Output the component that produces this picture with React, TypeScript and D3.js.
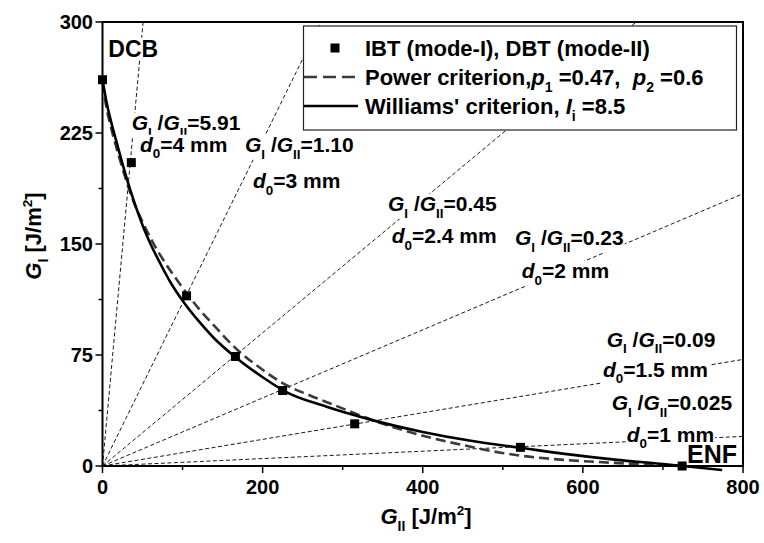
import React, { useEffect, useRef } from 'react';
import * as d3 from 'd3';

const W = 764, H = 543;

// axis ticks
const xTicks = [0, 200, 400, 600, 800];
const xMinor = [100, 300, 500, 700];
const yTicks = [0, 75, 150, 225, 300];
const yMinor = [37.5, 112.5, 187.5, 262.5];

// experimental points (G_II, G_I)
const expGII = [0, 36, 105, 166, 225, 315, 522, 724];
const expGI = [261, 205, 115, 74, 51, 28.5, 12.6, 0];

// Williams' criterion curve
const williamsGII = [0, 5, 11, 18, 24, 31, 38, 45, 52, 60, 72, 85, 101, 120, 140, 165, 200, 226, 280, 337, 400, 460, 522, 580, 640, 700, 740, 774];
const williamsGI = [261, 246, 232, 218, 206, 193, 181, 170, 160, 150, 137, 124, 111, 98, 86, 74, 60, 51, 40, 31, 23, 17, 12.3, 8, 4.3, 1.3, -0.8, -2.7];

// Power criterion curve
const powerGII = [0, 5, 11, 18, 25, 32, 40, 50, 62, 75, 90, 105, 120, 140, 165.5, 200, 225, 260, 288, 337, 400, 460, 497, 522, 580, 609, 660, 700, 722];
const powerGI = [259, 242, 228, 214, 201, 189, 177, 165, 152, 140, 128, 116.7, 106.5, 94.5, 80, 65, 56, 47.5, 41.5, 31, 20.5, 13, 9, 7, 4, 3, 1.5, 0.5, 0];

// mode mixity rays
const rayRatios = [5.91, 1.10, 0.45, 0.23, 0.09, 0.025];
const ratioLabels = ['5.91', '1.10', '0.45', '0.23', '0.09', '0.025'];
const d0Labels = ['4 mm', '3 mm', '2.4 mm', '2 mm', '1.5 mm', '1 mm'];

// label layout (pixels): ratio label x,y ; d0 label x,y
const labelLayout = [
  [131.7, 130, 140, 151.7],
  [245, 152, 253, 188],
  [388, 211, 391.7, 243],
  [515, 245, 521.7, 278],
  [606.7, 346.7, 603, 376.7],
  [611.7, 410, 626.7, 441.7],
];

const FONT = "'Liberation Sans', Arial, Helvetica, sans-serif";

type Part = [string, 'n' | 'i' | 'sub' | 'sup'];

function rich(parent: any, px: number, py: number, parts: Part[], size = 21, anchor = 'start') {
  const t = parent.append('text')
    .attr('x', px).attr('y', py)
    .attr('font-family', FONT).attr('font-weight', 'bold')
    .attr('font-size', size).attr('fill', '#000')
    .attr('text-anchor', anchor)
    .style('white-space', 'pre');
  let shift = 0;
  parts.forEach(([s, k]) => {
    const ts = t.append('tspan').text(s);
    let target = 0;
    let fs = size;
    if (k === 'sub') { target = size * 0.32; fs = size * 0.64; }
    if (k === 'sup') { target = -size * 0.42; fs = size * 0.62; }
    if (k === 'i') ts.attr('font-style', 'italic');
    ts.attr('font-size', fs);
    if (target !== shift) { ts.attr('dy', target - shift); shift = target; }
  });
  return t;
}

function boxedLabel(parent: any, px: number, py: number, parts: Part[], size = 21) {
  const g = parent.append('g');
  const t = rich(g, px, py, parts, size);
  const bb = (t.node() as SVGTextElement).getBBox();
  g.insert('rect', 'text')
    .attr('x', bb.x - 1).attr('y', bb.y + 2)
    .attr('width', bb.width + 2).attr('height', bb.height - 4)
    .attr('fill', '#fff');
  return g;
}

export default function App() {
  const ref = useRef<SVGSVGElement>(null);

  useEffect(() => {
    const svg = d3.select(ref.current);
    svg.selectAll('*').remove();

    const x = d3.scaleLinear().domain([0, 800]).range([102.5, 743]);
    const y = d3.scaleLinear().domain([0, 300]).range([466, 22]);

    svg.append('rect').attr('width', W).attr('height', H).attr('fill', '#fff');

    // rays
    const gRays = svg.append('g');
    rayRatios.forEach((r) => {
      const xEnd = Math.min(800, 300 / r);
      gRays.append('line')
        .attr('x1', x(0)).attr('y1', y(0))
        .attr('x2', x(xEnd)).attr('y2', y(xEnd * r))
        .attr('stroke', '#000').attr('stroke-width', 0.9)
        .attr('stroke-dasharray', '4,2.5');
    });

    // labels
    const gLab = svg.append('g');
    rayRatios.forEach((r, i) => {
      const [rx, ry, dx, dy] = labelLayout[i];
      boxedLabel(gLab, rx, ry, [
        ['G', 'i'], ['I', 'sub'], [' /', 'n'], ['G', 'i'], ['II', 'sub'], ['=' + ratioLabels[i], 'n'],
      ]);
      boxedLabel(gLab, dx, dy, [['d', 'i'], ['0', 'sub'], ['=' + d0Labels[i], 'n']]);
    });
    boxedLabel(gLab, 108.3, 56.7, [['DCB', 'n']], 23);
    boxedLabel(gLab, 687, 463.3, [['ENF', 'n']], 25);

    // curves
    const line = d3.line<[number, number]>()
      .x((d) => x(d[0])).y((d) => y(d[1]))
      .curve(d3.curveMonotoneX);
    const powerData = powerGII.map((v, i) => [v, powerGI[i]] as [number, number]);
    const willData = williamsGII.map((v, i) => [v, williamsGI[i]] as [number, number]);
    svg.append('path').attr('d', line(powerData) as string)
      .attr('fill', 'none').attr('stroke', '#3a3a3a').attr('stroke-width', 2.6)
      .attr('stroke-dasharray', '10,5');
    svg.append('path').attr('d', line(willData) as string)
      .attr('fill', 'none').attr('stroke', '#000').attr('stroke-width', 2.6);

    // points
    const sz = 9;
    svg.append('g').selectAll('rect').data(expGII).enter().append('rect')
      .attr('x', (d) => x(d) - sz / 2)
      .attr('y', (_d, i) => y(expGI[i]) - sz / 2)
      .attr('width', sz).attr('height', sz).attr('fill', '#000');

    // frame
    svg.append('rect')
      .attr('x', x(0)).attr('y', y(300))
      .attr('width', x(800) - x(0)).attr('height', y(0) - y(300))
      .attr('fill', 'none').attr('stroke', '#000').attr('stroke-width', 2);

    // ticks
    const gt = svg.append('g').attr('stroke', '#000').attr('stroke-width', 1.5);
    xTicks.forEach((v) => gt.append('line').attr('x1', x(v)).attr('x2', x(v)).attr('y1', y(0)).attr('y2', y(0) + 7));
    xMinor.forEach((v) => gt.append('line').attr('x1', x(v)).attr('x2', x(v)).attr('y1', y(0)).attr('y2', y(0) + 4));
    yTicks.forEach((v) => gt.append('line').attr('y1', y(v)).attr('y2', y(v)).attr('x1', x(0)).attr('x2', x(0) - 7));
    yMinor.forEach((v) => gt.append('line').attr('y1', y(v)).attr('y2', y(v)).attr('x1', x(0)).attr('x2', x(0) - 4));

    const gtl = svg.append('g').attr('font-family', FONT).attr('font-weight', 'bold').attr('font-size', 20);
    xTicks.forEach((v) => gtl.append('text').attr('x', x(v)).attr('y', 494).attr('text-anchor', 'middle').text(String(v)));
    yTicks.forEach((v) => gtl.append('text').attr('x', 93).attr('y', y(v) + 7).attr('text-anchor', 'end').text(String(v)));

    // axis titles
    rich(svg, 426, 524, [['G', 'i'], ['II', 'sub'], [' [J/m', 'n'], ['2', 'sup'], [']', 'n']], 22, 'middle');
    const yt = svg.append('g').attr('transform', 'translate(41,236) rotate(-90)');
    rich(yt, 0, 0, [['G', 'i'], ['I', 'sub'], [' [J/m', 'n'], ['2', 'sup'], [']', 'n']], 22, 'middle');

    // legend
    const lg = svg.append('g');
    lg.append('rect').attr('x', 303.5).attr('y', 26).attr('width', 433).attr('height', 104)
      .attr('fill', '#fff').attr('stroke', '#222').attr('stroke-width', 1.2);
    lg.append('rect').attr('x', 335 - 4.5).attr('y', 48 - 4.5).attr('width', 9).attr('height', 9).attr('fill', '#000');
    rich(lg, 365, 55.5, [['IBT (mode-I), DBT (mode-II)', 'n']], 22);
    lg.append('line').attr('x1', 304).attr('x2', 358).attr('y1', 77).attr('y2', 77)
      .attr('stroke', '#3a3a3a').attr('stroke-width', 2.6).attr('stroke-dasharray', '13,6');
    rich(lg, 365, 84.5, [['Power criterion,', 'n'], ['p', 'i'], ['1', 'sub'], [' =0.47,  ', 'n'], ['p', 'i'], ['2', 'sub'], [' =0.6', 'n']], 22);
    lg.append('line').attr('x1', 304).attr('x2', 358).attr('y1', 106).attr('y2', 106)
      .attr('stroke', '#000').attr('stroke-width', 2.6);
    rich(lg, 365, 113.5, [["Williams' criterion, ", 'n'], ['I', 'i'], ['i', 'sub'], [' =8.5', 'n']], 22);
  }, []);

  return (
    <svg ref={ref} width={W} height={H} style={{ position: 'absolute', left: 0, top: 0, background: '#fff' }} />
  );
}
